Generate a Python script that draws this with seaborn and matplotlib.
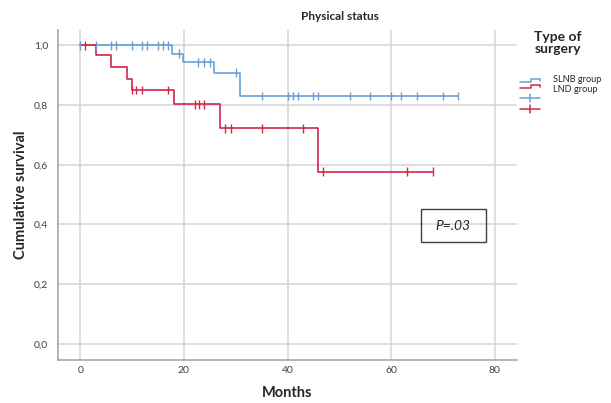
import numpy as np
import pandas as pd
import matplotlib.pyplot as plt
from matplotlib.lines import Line2D
from matplotlib.patches import Rectangle
import seaborn as sns

# ── Data ───────────────────────────────────────────
slnb_times = [0, 17.7, 19.8, 25.8, 30.9, 73]
slnb_surv = [1.0, 0.972, 0.943, 0.908, 0.830, 0.830]
slnb_censored = [0, 3, 6, 6.8, 9.9, 11.9, 12.9, 15, 16, 17, 19, 22.7, 23.9, 25, 30,
                 35, 40, 41, 42.1, 45, 45.9, 52, 56, 60, 62, 65, 70, 73]

lnd_times = [0, 3, 6, 9.1, 9.9, 18, 27, 45.9, 68]
lnd_surv = [1.0, 0.967, 0.926, 0.887, 0.850, 0.802, 0.722, 0.577, 0.577]
lnd_censored = [0.9, 9.9, 10.8, 11.9, 17, 22.1, 22.9, 23.9, 28, 29, 35, 43, 46.9, 63, 68]

group_names = ['SLNB group', 'LND group']
group_colors = ['#6a9fd6', '#d2264c']
p_text = 'P=.03'

x_ticks = [0, 20, 40, 60, 80]
y_ticks = [0.0, 0.2, 0.4, 0.6, 0.8, 1.0]


def step_value(times, surv, t):
    idx = np.searchsorted(times, t, side='right') - 1
    return np.array(surv)[idx]


curves = pd.concat([
    pd.DataFrame({'time': slnb_times, 'surv': slnb_surv, 'group': group_names[0]}),
    pd.DataFrame({'time': lnd_times, 'surv': lnd_surv, 'group': group_names[1]}),
])
censors = pd.concat([
    pd.DataFrame({'time': slnb_censored,
                  'surv': step_value(slnb_times, slnb_surv, slnb_censored),
                  'group': group_names[0]}),
    pd.DataFrame({'time': lnd_censored,
                  'surv': step_value(lnd_times, lnd_surv, lnd_censored),
                  'group': group_names[1]}),
])

sns.set_style('white')
plt.rcParams['font.family'] = ['Lato', 'DejaVu Sans']

W, H = 611, 403
fig = plt.figure(figsize=(W / 100, H / 100), dpi=100)
ax = fig.add_axes([58 / W, 1 - 360 / H, (517 - 58) / W, (360 - 30) / H])

palette = dict(zip(group_names, group_colors))
for name in group_names:
    d = curves[curves['group'] == name]
    sns.lineplot(data=d, x='time', y='surv', ax=ax, color=palette[name],
                 drawstyle='steps-post', estimator=None, sort=False,
                 linewidth=1.2, legend=False)
sns.scatterplot(data=censors, x='time', y='surv', hue='group', palette=palette,
                marker='|', s=40, linewidth=1.0, ax=ax, legend=False, zorder=3)

ax.set_xlim(-4.3, 84.3)
ax.set_ylim(-0.054, 1.051)
ax.set_xticks(x_ticks)
ax.set_yticks(y_ticks)
ax.set_yticklabels([f'{v:.1f}'.replace('.', ',') for v in y_ticks])
ax.tick_params(length=0, labelsize=7.5, labelcolor='#404040')
ax.tick_params(axis='y', pad=7)
ax.tick_params(axis='x', pad=4)
ax.grid(True, color='#d4d4d4', linewidth=1.1)
ax.set_axisbelow(True)
for side in ['top', 'right']:
    ax.spines[side].set_visible(False)
for side in ['left', 'bottom']:
    ax.spines[side].set_color('#a0a0a0')
    ax.spines[side].set_linewidth(1.1)

ax.set_xlabel('Months', fontsize=10.5, fontweight='bold', labelpad=8)
ax.set_ylabel('Cumulative survival', fontsize=10.5, fontweight='bold', labelpad=4)

fig.text(340 / W, 1 - 17 / H, 'Physical status', fontsize=8.5, fontweight='bold',
         ha='center', va='center')

# ── Legend drawn by hand (SPSS style) ─────────────
def px(x, y):
    return x / W, 1 - y / H

fig.text(*px(558, 43), 'Type of\nsurgery', fontsize=10, fontweight='bold',
         ha='center', va='center', linespacing=0.95)
for i, (name, col) in enumerate(zip(group_names, group_colors)):
    y0 = 82 + i * 6
    xs = [520, 531, 531, 540, 540]
    ys = [y0, y0, y0 - 3, y0 - 3, y0 - 1]
    fig.add_artist(Line2D([px(a, 0)[0] for a in xs], [px(0, b)[1] for b in ys],
                          color=col, linewidth=1.1))
    fig.text(*px(553, 80 + i * 9), name, fontsize=6.6, ha='left', va='center')
    yc = 97.7 + i * 11.3
    fig.add_artist(Line2D([px(520, 0)[0], px(540, 0)[0]], [px(0, yc)[1]] * 2,
                          color=col, linewidth=1.1))
    fig.add_artist(Line2D([px(530, 0)[0]] * 2, [px(0, yc - 4)[1], px(0, yc + 4)[1]],
                          color=col, linewidth=1.1))

# ── P value box ───────────────────────────────────
fig.add_artist(Rectangle(px(421, 242), (486 - 421) / W, (242 - 209) / H,
                         transform=fig.transFigure, fill=False,
                         edgecolor='#404040', linewidth=1.0))
fig.text(*px(453, 226), p_text, fontsize=10, fontstyle='italic',
         ha='center', va='center')

plt.savefig('out.png', dpi=100)
